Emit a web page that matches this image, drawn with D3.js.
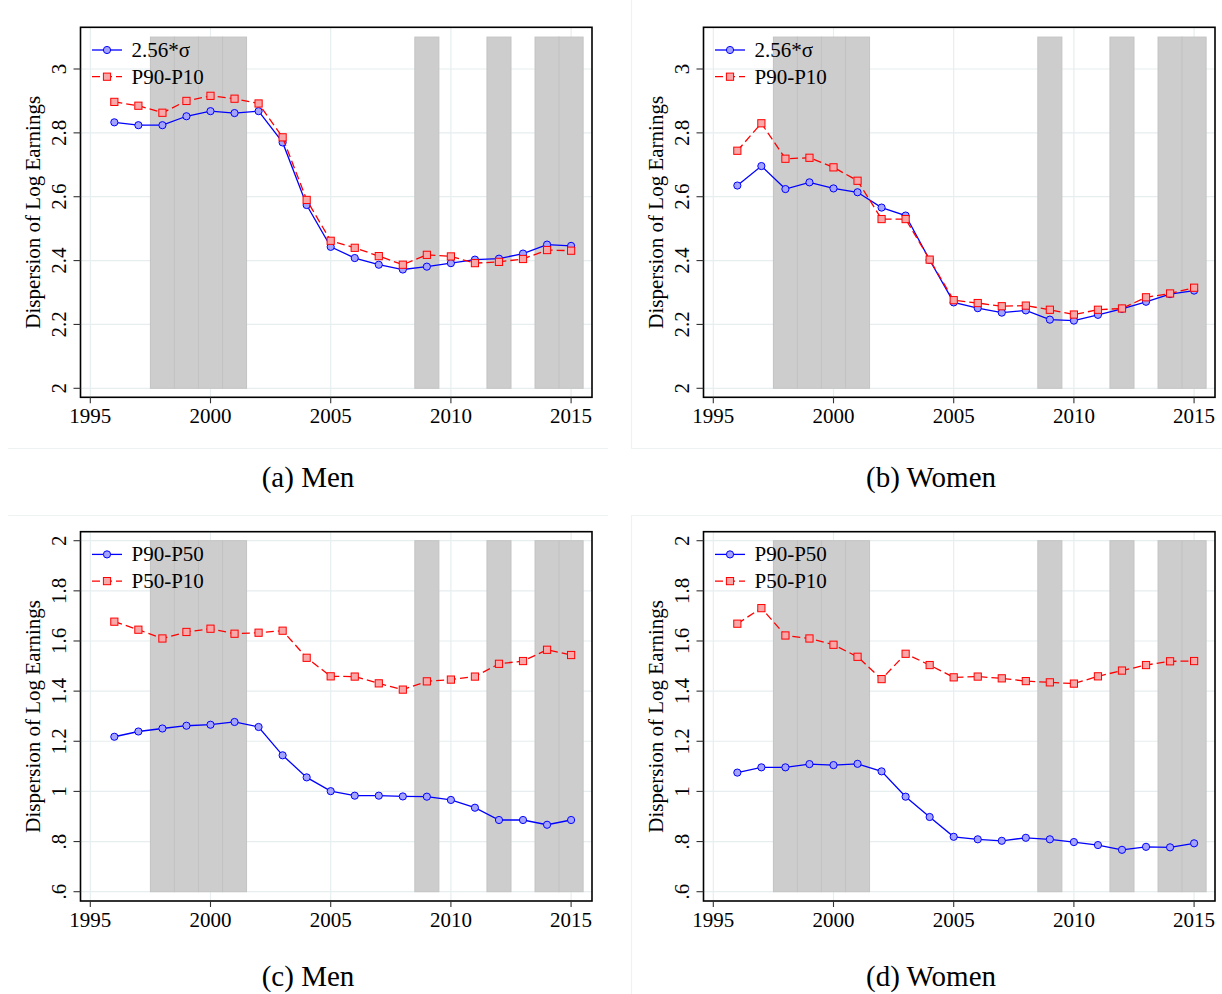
<!DOCTYPE html>
<html>
<head>
<meta charset="utf-8">
<script src="https://cdn.jsdelivr.net/npm/d3@7"></script>
<style>
  body { margin: 0; background: #ffffff; }
  svg { display: block; }
  text { font-family: "Liberation Serif", "Times New Roman", serif; fill: #000; }
</style>
</head>
<body>
<svg id="fig" width="1222" height="994"></svg>
<script>
// ---- data -------------------------------------------------------------
const years = [1996, 1997, 1998, 1999, 2000, 2001, 2002, 2003, 2004, 2005,
               2006, 2007, 2008, 2009, 2010, 2011, 2012, 2013, 2014, 2015];

// overall dispersion
const menSigma     = [2.833, 2.824, 2.824, 2.852, 2.868, 2.862, 2.868, 2.770, 2.574, 2.443,
                      2.408, 2.387, 2.372, 2.381, 2.392, 2.403, 2.406, 2.422, 2.450, 2.446];
const menP90P10    = [2.897, 2.885, 2.863, 2.900, 2.916, 2.907, 2.892, 2.786, 2.590, 2.462,
                      2.440, 2.414, 2.387, 2.418, 2.413, 2.392, 2.396, 2.405, 2.433, 2.431];
const womenSigma   = [2.635, 2.696, 2.624, 2.645, 2.626, 2.614, 2.566, 2.541, 2.402, 2.269,
                      2.251, 2.237, 2.244, 2.215, 2.212, 2.230, 2.249, 2.271, 2.295, 2.306];
const womenP90P10  = [2.744, 2.830, 2.719, 2.722, 2.692, 2.650, 2.530, 2.530, 2.403, 2.276,
                      2.267, 2.257, 2.259, 2.246, 2.231, 2.246, 2.250, 2.285, 2.297, 2.315];

// upper and lower tail dispersion
const menP90P50    = [1.218, 1.239, 1.251, 1.262, 1.266, 1.277, 1.257, 1.144, 1.056, 1.001,
                      0.983, 0.983, 0.980, 0.979, 0.966, 0.935, 0.886, 0.886, 0.867, 0.886];
const menP50P10    = [1.677, 1.645, 1.610, 1.636, 1.649, 1.629, 1.633, 1.641, 1.533, 1.459,
                      1.458, 1.431, 1.406, 1.439, 1.446, 1.458, 1.509, 1.520, 1.565, 1.544];
const womenP90P50  = [1.075, 1.096, 1.096, 1.109, 1.105, 1.110, 1.080, 0.979, 0.898, 0.819,
                      0.809, 0.803, 0.815, 0.809, 0.798, 0.786, 0.767, 0.779, 0.777, 0.793];
const womenP50P10  = [1.669, 1.731, 1.622, 1.610, 1.585, 1.537, 1.448, 1.549, 1.504, 1.455,
                      1.458, 1.451, 1.440, 1.435, 1.430, 1.459, 1.482, 1.504, 1.519, 1.520];

// years shaded as recession years
const recessionYears = [1998, 1999, 2000, 2001, 2009, 2012, 2014, 2015];

// axis ticks and labels
const xTicks = [1995, 2000, 2005, 2010, 2015];
const yTicksTop = [2, 2.2, 2.4, 2.6, 2.8, 3];
const yLabelsTop = ["2", "2.2", "2.4", "2.6", "2.8", "3"];
const yTicksBottom = [0.6, 0.8, 1, 1.2, 1.4, 1.6, 1.8, 2];
const yLabelsBottom = [".6", ".8", "1", "1.2", "1.4", "1.6", "1.8", "2"];
const shadeTop = [2, 3.1];
const shadeBottom = [0.6, 2];

const seriesNamesTop = ["2.56*\u03c3", "P90-P10"];
const seriesNamesBottom = ["P90-P50", "P50-P10"];
const yTitle = "Dispersion of Log Earnings";
const captions = ["(a) Men", "(b) Women", "(c) Men", "(d) Women"];

// ---- layout -----------------------------------------------------------
const svg = d3.select("#fig");
const colOffset = [0, 623];
const rows = [
  { top: 27.3, bottom: 397.3, yDomain: [2, 3], yRange: [388.3, 69],
    ticks: yTicksTop, labels: yLabelsTop, shade: shadeTop, names: seriesNamesTop, capY: 487 },
  { top: 531.7, bottom: 901, yDomain: [0.6, 2], yRange: [891.7, 540.7],
    ticks: yTicksBottom, labels: yLabelsBottom, shade: shadeBottom, names: seriesNamesBottom, capY: 986 }
];

const panels = [
  { row: 0, col: 0, a: menSigma,   b: menP90P10,   cap: captions[0] },
  { row: 0, col: 1, a: womenSigma, b: womenP90P10, cap: captions[1] },
  { row: 1, col: 0, a: menP90P50,  b: menP50P10,   cap: captions[2] },
  { row: 1, col: 1, a: womenP90P50, b: womenP50P10, cap: captions[3] }
];

const BLUE = "#0000ff", BLUE_FILL = "#a4a4ff";
const RED = "#ff0000", RED_FILL = "#f8a8a8";
const GRID = "#e6eef0";

// faint outlines of the sub-figure images
const faint = svg.append("g").attr("stroke", "#edf2f2").attr("stroke-width", 1.2);
[[8, 448.5, 608, 448.5], [631, 448.5, 1222, 448.5],
 [8, 515.5, 608, 515.5], [631, 515.5, 1222, 515.5],
 [631.5, 0, 631.5, 448.5], [631.5, 515.5, 631.5, 994]].forEach(s =>
  faint.append("line").attr("x1", s[0]).attr("y1", s[1]).attr("x2", s[2]).attr("y2", s[3]));

panels.forEach(p => {
  const r = rows[p.row];
  const dx = colOffset[p.col];
  const left = 80.5 + dx, right = 592 + dx;
  const x = d3.scaleLinear().domain([1995, 2015]).range([90.3 + dx, 571.1 + dx]);
  const y = d3.scaleLinear().domain(r.yDomain).range(r.yRange);
  const g = svg.append("g");

  // grid
  g.append("g").selectAll("line").data(r.ticks).join("line")
    .attr("x1", left).attr("x2", right)
    .attr("y1", d => y(d)).attr("y2", d => y(d))
    .attr("stroke", GRID).attr("stroke-width", 1.2);
  g.append("g").selectAll("line").data(xTicks).join("line")
    .attr("x1", d => x(d)).attr("x2", d => x(d))
    .attr("y1", r.top).attr("y2", r.bottom)
    .attr("stroke", GRID).attr("stroke-width", 1.2);

  // recession shading, one bar per year
  g.append("g").selectAll("rect").data(recessionYears).join("rect")
    .attr("x", d => x(d - 0.5)).attr("width", d => x(d + 0.5) - x(d - 0.5))
    .attr("y", y(r.shade[1])).attr("height", y(r.shade[0]) - y(r.shade[1]))
    .attr("fill", "#cdcdcd").attr("stroke", "#c3c3c3").attr("stroke-width", 1);

  // series
  const ptsA = years.map((yr, i) => [yr, p.a[i]]);
  const ptsB = years.map((yr, i) => [yr, p.b[i]]);
  const line = d3.line().x(d => x(d[0])).y(d => y(d[1]));

  g.append("path").datum(ptsA).attr("d", line)
    .attr("fill", "none").attr("stroke", BLUE).attr("stroke-width", 1.3);
  g.append("g").selectAll("circle").data(ptsA).join("circle")
    .attr("cx", d => x(d[0])).attr("cy", d => y(d[1])).attr("r", 3.6)
    .attr("fill", BLUE_FILL).attr("stroke", BLUE).attr("stroke-width", 1);

  g.append("path").datum(ptsB).attr("d", line)
    .attr("fill", "none").attr("stroke", RED).attr("stroke-width", 1.3)
    .attr("stroke-dasharray", "8,4");
  g.append("g").selectAll("rect").data(ptsB).join("rect")
    .attr("x", d => x(d[0]) - 3.6).attr("y", d => y(d[1]) - 3.6)
    .attr("width", 7.2).attr("height", 7.2)
    .attr("fill", RED_FILL).attr("stroke", RED).attr("stroke-width", 1);

  // frame
  g.append("rect").attr("x", left).attr("y", r.top)
    .attr("width", right - left).attr("height", r.bottom - r.top)
    .attr("fill", "none").attr("stroke", "#000").attr("stroke-width", 1.6);

  // y axis ticks and labels
  g.append("g").selectAll("line").data(r.ticks).join("line")
    .attr("x1", left - 7).attr("x2", left)
    .attr("y1", d => y(d)).attr("y2", d => y(d))
    .attr("stroke", "#333").attr("stroke-width", 1.1);
  g.append("g").selectAll("text").data(r.ticks).join("text")
    .attr("transform", d => `translate(${left - 15},${y(d)}) rotate(-90)`)
    .attr("text-anchor", "middle").attr("font-size", 21)
    .text((d, i) => r.labels[i]);

  // x axis ticks and labels
  g.append("g").selectAll("line").data(xTicks).join("line")
    .attr("x1", d => x(d)).attr("x2", d => x(d))
    .attr("y1", r.bottom).attr("y2", r.bottom + 6)
    .attr("stroke", "#333").attr("stroke-width", 1.1);
  g.append("g").selectAll("text").data(xTicks).join("text")
    .attr("x", d => x(d)).attr("y", r.bottom + 26)
    .attr("text-anchor", "middle").attr("font-size", 21)
    .text(d => d);

  // axis title
  g.append("text")
    .attr("transform", `translate(${left - 40.5},${(r.top + r.bottom) / 2}) rotate(-90)`)
    .attr("text-anchor", "middle").attr("font-size", 21)
    .text(yTitle);

  // legend
  const lg = g.append("g");
  const rowsY = [r.top + 22.7, r.top + 49.4];
  lg.append("line").attr("x1", left + 11.5).attr("x2", left + 41.5)
    .attr("y1", rowsY[0]).attr("y2", rowsY[0])
    .attr("stroke", BLUE).attr("stroke-width", 1.3);
  lg.append("circle").attr("cx", left + 26.5).attr("cy", rowsY[0]).attr("r", 3.6)
    .attr("fill", BLUE_FILL).attr("stroke", BLUE).attr("stroke-width", 1);
  lg.append("line").attr("x1", left + 11.5).attr("x2", left + 41.5)
    .attr("y1", rowsY[1]).attr("y2", rowsY[1])
    .attr("stroke", RED).attr("stroke-width", 1.3).attr("stroke-dasharray", "8,4");
  lg.append("rect").attr("x", left + 26.5 - 3.6).attr("y", rowsY[1] - 3.6)
    .attr("width", 7.2).attr("height", 7.2)
    .attr("fill", RED_FILL).attr("stroke", RED).attr("stroke-width", 1);
  r.names.forEach((n, i) => {
    lg.append("text").attr("x", left + 51).attr("y", rowsY[i] + 7)
      .attr("font-size", 21).text(n);
  });

  // caption
  svg.append("text").attr("x", 308 + dx).attr("y", r.capY)
    .attr("text-anchor", "middle").attr("font-size", 29)
    .text(p.cap);
});
</script>
</body>
</html>
